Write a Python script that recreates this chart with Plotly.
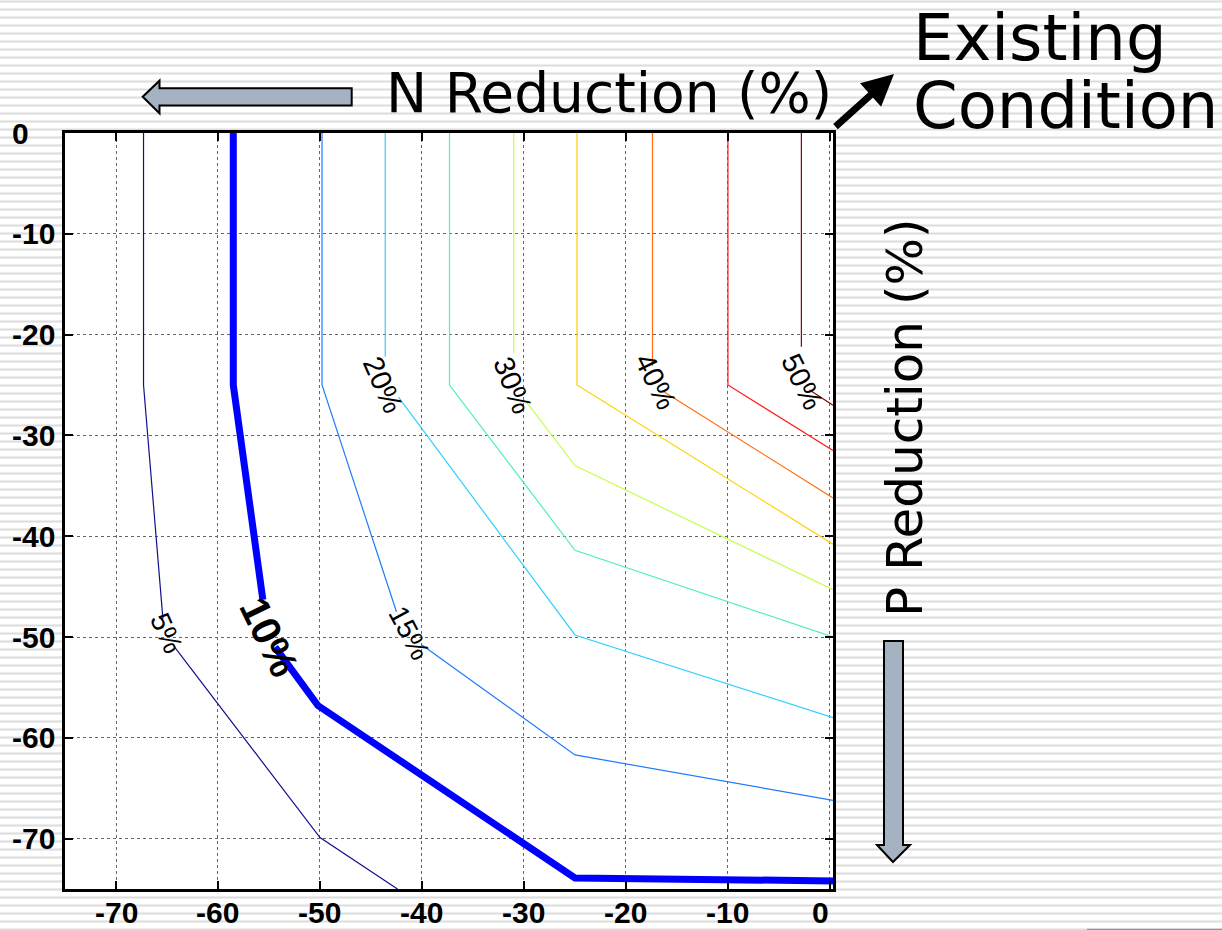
import plotly.graph_objects as go

# ---------------- data ----------------
x_ticks = [-70, -60, -50, -40, -30, -20, -10, 0]
x_tick_labels = ["-70", "-60", "-50", "-40", "-30", "-20", "-10", "0"]
y_ticks = [0, -10, -20, -30, -40, -50, -60, -70]
y_tick_labels = ["0", "-10", "-20", "-30", "-40", "-50", "-60", "-70"]

# contour lines (None = gap where the inline label sits)
c05_x = [-67.3, -67.3, -65.4, None, -64.4, -50.0, -42.4]
c05_y = [0, -25, -48.2, None, -50.8, -69.9, -75]
c10_x = [-58.5, -58.5, -55.6, None, -54.4, -50.2, -25.0, 0.3]
c10_y = [0, -25, -46.3, None, -51.0, -56.8, -73.9, -74.2]
c15_x = [-49.8, -49.8, -42.5, None, -40.0, -25.0, 0.3]
c15_y = [0, -25, -47.5, None, -50.8, -61.7, -66.2]
c20_x = [-43.6, -43.6, None, -42.3, -25.0, 0.3]
c20_y = [0, -22.2, None, -26.2, -49.8, -58.0]
c25_x = [-37.3, -37.3, -25.0, 0.3]
c25_y = [0, -25, -41.4, -50.0]
c30_x = [-31.0, -31.0, None, -29.9, -25.0, 0.3]
c30_y = [0, -21.8, None, -26.5, -33.0, -45.3]
c35_x = [-24.8, -24.8, 0.3]
c35_y = [0, -25, -40.8]
c40_x = [-17.4, -17.4, None, -16.4, 0.3]
c40_y = [0, -23.1, None, -25.6, -36.2]
c45_x = [-10.0, -10.0, 0.3]
c45_y = [0, -25, -31.5]
c50_x = [-2.8, -2.8, None, -2.0, 0.3]
c50_y = [0, -21.2, None, -25.5, -27.0]

contour_x = [c05_x, c10_x, c15_x, c20_x, c25_x, c30_x, c35_x, c40_x, c45_x, c50_x]
contour_y = [c05_y, c10_y, c15_y, c20_y, c25_y, c30_y, c35_y, c40_y, c45_y, c50_y]
contour_colors = ["#10108C", "#0000FF", "#1E7BFF", "#2FD0FF", "#4FF2B4",
                  "#C4FF50", "#FFD000", "#FF6E10", "#FF1A1A", "#8E0000"]
contour_widths = [1.2, 7, 1.2, 1.2, 1.2, 1.2, 1.2, 1.2, 1.2, 1.2]

label_text = ["5%", "10%", "15%", "20%", "30%", "40%", "50%"]
label_x = [-65.1, -55.0, -41.3, -43.8, -31.1, -17.1, -2.7]
label_y = [-49.6, -50.0, -49.6, -25.0, -25.0, -24.6, -24.7]
label_angle = [66, 64, 62, 66, 68, 64, 64]
label_size = [28, 41, 28, 29, 29, 29, 29]
label_bold = [False, True, False, False, False, False, False]

# ---------------- layout helpers (pixel -> paper) ----------------
W, H = 1222, 930
L, R, T, B = 65, 833, 133, 889


def px(X):
    return (X - L) / (R - L)


def py(Y):
    return (B - Y) / (B - T)


fig = go.Figure()

for cx, cy, col, w in zip(contour_x, contour_y, contour_colors, contour_widths):
    fig.add_trace(go.Scatter(x=cx, y=cy, mode="lines",
                             line=dict(color=col, width=w),
                             connectgaps=False, hoverinfo="skip",
                             showlegend=False))

annotations = []
for t, x, y, a, s, b in zip(label_text, label_x, label_y, label_angle,
                            label_size, label_bold):
    annotations.append(dict(x=x, y=y, xref="x", yref="y", text=t,
                            showarrow=False, textangle=a,
                            font=dict(family="Liberation Sans", size=s,
                                      color="black",
                                      weight="bold" if b else "normal")))

tick_font = dict(family="Liberation Sans", size=30, color="black",
                 weight="bold")
# y tick labels (left aligned, as in the original slide)
for v, t in zip(y_ticks, y_tick_labels):
    annotations.append(dict(x=px(10), y=v, xref="paper", yref="y", text=t,
                            showarrow=False, xanchor="left", yanchor="middle",
                            font=tick_font))
# x tick labels
for v, t in zip(x_ticks, x_tick_labels):
    annotations.append(dict(x=v, y=py(912), xref="x", yref="paper", text=t,
                            showarrow=False, xanchor="center",
                            yanchor="middle", xshift=-9 if v == 0 else 0,
                            font=tick_font))

# titles
annotations.append(dict(x=px(384), y=py(93), xref="paper", yref="paper",
                        text="N Reduction (%)", showarrow=False,
                        xanchor="left", yanchor="middle",
                        font=dict(family="DejaVu Sans", size=55, color="black")))
annotations.append(dict(x=px(911), y=py(38), xref="paper", yref="paper",
                        text="Existing", showarrow=False,
                        xanchor="left", yanchor="middle",
                        font=dict(family="DejaVu Sans", size=64, color="black")))
annotations.append(dict(x=px(911), y=py(106), xref="paper", yref="paper",
                        text="Condition", showarrow=False,
                        xanchor="left", yanchor="middle",
                        font=dict(family="DejaVu Sans", size=64, color="black")))
annotations.append(dict(x=px(905), y=py(418), xref="paper", yref="paper",
                        text="P Reduction (%)", showarrow=False, textangle=-90,
                        xanchor="center", yanchor="middle",
                        font=dict(family="DejaVu Sans", size=50, color="black")))
# black arrow pointing to "Existing Condition"
annotations.append(dict(x=px(894), y=py(74), xref="paper", yref="paper",
                        text="", showarrow=True, arrowhead=2, arrowsize=0.9,
                        arrowwidth=7, arrowcolor="black", standoff=0,
                        ax=-60, ay=54))

shapes = []
# striped slide background
stripe_path = "".join(
    f"M{px(0):.5f},{py(1.5 + 8 * k):.5f}H{px(W):.5f}" for k in range(117))
shapes.append(dict(type="path", path=stripe_path, xref="paper", yref="paper",
                   line=dict(color="#dcdcdc", width=2), layer="below"))
# white plot area
shapes.append(dict(type="rect", x0=0, x1=1, y0=0, y1=1, xref="paper",
                   yref="paper", fillcolor="white", line=dict(width=0),
                   layer="below"))
# grey block arrows
left_arrow = [(142.7, 96.7), (159.5, 80.7), (159.5, 88.3), (351.7, 88.3),
              (351.7, 105.5), (159.5, 105.5), (159.5, 113.3)]
down_arrow = [(893, 862), (877, 845), (884, 845), (884, 641), (903, 641),
              (903, 845), (910, 845)]
for pts in (left_arrow, down_arrow):
    p = "M" + "L".join(f"{px(a):.5f},{py(b):.5f}" for a, b in pts) + "Z"
    shapes.append(dict(type="path", path=p, xref="paper", yref="paper",
                       fillcolor="#A4B2C1", line=dict(color="black", width=2),
                       layer="above"))
# small line at the bottom right of the slide
shapes.append(dict(type="line", x0=px(1087), x1=px(W), y0=py(929.5),
                   y1=py(929.5), xref="paper", yref="paper",
                   line=dict(color="#8a96a8", width=1.5), layer="below"))

axis_common = dict(showline=True, linewidth=3, linecolor="black",
                   mirror="ticks", ticks="inside", ticklen=8, tickwidth=2,
                   tickcolor="black", showgrid=True, gridcolor="#666666",
                   gridwidth=1, griddash="dot", zeroline=False,
                   showticklabels=False)

fig.update_layout(
    width=W, height=H,
    margin=dict(l=L, r=W - R, t=T, b=H - B, autoexpand=False),
    paper_bgcolor="white", plot_bgcolor="rgba(0,0,0,0)",
    xaxis=dict(range=[-75, 0.3], tickvals=x_ticks, **axis_common),
    yaxis=dict(range=[-75, 0], tickvals=y_ticks, **axis_common),
    annotations=annotations,
    shapes=shapes,
    showlegend=False,
)

fig.write_html("out.html")
